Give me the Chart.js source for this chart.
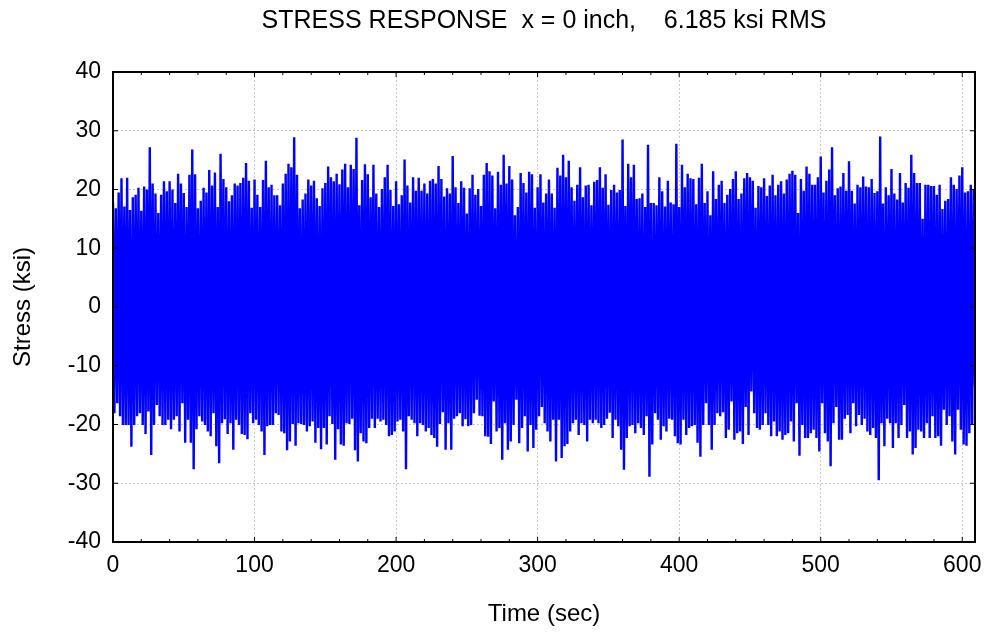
<!DOCTYPE html>
<html>
<head>
<meta charset="utf-8">
<script src="https://cdn.jsdelivr.net/npm/chart.js@4.4.1/dist/chart.umd.min.js"></script>
<style>
  html, body { margin: 0; padding: 0; background: #fff; }
  #wrap { width: 985px; height: 635px; }
</style>
</head>
<body>
<div id="wrap"><canvas id="stress" width="985" height="635"></canvas></div>
<script>
// positive peaks, one every 2 sec starting at t = 0 (ksi)
const topPeaks = [
  17.8, 16.8, 19.5, 21.9, 17.1, 22.0, 16.5, 18.7, 19.1, 20.3,
  16.4, 20.5, 20.0, 27.2, 21.0, 19.3, 16.0, 19.1, 21.4, 19.7,
  21.4, 20.0, 17.7, 22.7, 21.0, 19.4, 17.0, 22.5, 26.8, 22.6,
  16.8, 18.1, 20.3, 19.5, 23.3, 20.7, 22.9, 17.0, 26.1, 21.8,
  20.4, 18.0, 19.0, 21.0, 20.7, 21.1, 22.0, 24.5, 21.5, 16.9,
  21.7, 19.1, 17.0, 21.6, 24.9, 20.4, 20.8, 19.0, 19.0, 17.3,
  21.0, 22.7, 24.4, 23.8, 28.9, 22.5, 16.8, 18.3, 19.3, 21.7,
  20.7, 21.5, 18.5, 17.2, 20.2, 21.1, 23.9, 22.1, 21.4, 22.7,
  20.9, 23.4, 24.4, 20.4, 24.2, 23.5, 28.8, 17.3, 21.6, 24.3,
  22.6, 18.7, 24.2, 19.3, 17.0, 20.1, 22.1, 24.2, 19.9, 17.2,
  21.4, 17.5, 19.0, 25.1, 20.7, 17.8, 22.1, 19.8, 22.0, 19.8,
  21.0, 19.3, 21.5, 21.8, 21.0, 24.0, 21.8, 18.8, 20.2, 19.3,
  25.7, 20.4, 17.7, 21.4, 20.3, 15.9, 20.2, 22.5, 19.1, 20.1,
  17.2, 22.5, 24.5, 23.1, 22.4, 16.8, 23.0, 20.8, 25.9, 21.0,
  24.0, 21.7, 15.6, 17.0, 22.8, 21.1, 19.5, 23.0, 22.6, 16.9,
  20.4, 22.6, 17.8, 19.3, 21.7, 19.3, 16.9, 23.7, 22.4, 25.9,
  22.1, 24.9, 20.4, 18.1, 20.8, 23.8, 18.7, 20.7, 20.8, 17.3,
  21.3, 21.6, 23.8, 20.3, 22.6, 17.4, 19.9, 20.8, 19.5, 19.9,
  28.5, 17.2, 24.4, 22.1, 24.2, 18.4, 18.5, 19.3, 17.0, 27.6,
  17.7, 17.7, 17.3, 22.1, 19.7, 17.1, 21.5, 17.8, 17.5, 27.8,
  17.0, 24.2, 20.4, 22.7, 21.9, 21.8, 17.5, 22.0, 24.4, 17.7,
  19.7, 15.6, 23.1, 18.4, 20.8, 21.5, 17.7, 19.1, 20.1, 21.8,
  23.1, 18.4, 19.3, 21.9, 22.8, 22.1, 21.5, 16.9, 20.6, 20.4,
  21.9, 18.9, 20.7, 22.5, 19.0, 20.8, 21.4, 19.3, 21.7, 22.7,
  23.2, 22.5, 16.0, 21.8, 19.8, 23.9, 22.7, 20.8, 20.8, 22.1,
  25.6, 19.5, 21.5, 23.4, 27.2, 19.0, 20.2, 20.5, 22.8, 19.8,
  24.8, 19.8, 17.6, 20.8, 20.4, 22.2, 20.5, 20.4, 21.8, 19.4,
  19.7, 29.0, 17.6, 20.4, 19.0, 23.5, 19.3, 18.3, 22.8, 17.8,
  21.1, 20.3, 25.9, 22.8, 21.1, 21.1, 15.0, 20.8, 20.8, 20.6,
  20.6, 19.1, 20.8, 16.7, 18.1, 18.4, 22.1, 20.8, 20.1, 22.4,
  23.8, 19.5, 19.7, 20.8, 20.1
];

// negative peaks, one every 2 sec starting at t = 1 (ksi)
const bottomPeaks = [
  -18.1, -16.4, -18.6, -20.1, -20.1, -20.1, -23.8, -20.1, -18.6, -18.1,
  -20.1, -21.6, -17.8, -25.2, -20.1, -16.7, -18.6, -20.1, -20.1, -19.2,
  -20.8, -19.2, -18.6, -21.2, -16.4, -23.1, -19.2, -23.1, -27.6, -20.8,
  -18.6, -19.5, -20.1, -21.2, -22.0, -18.1, -23.7, -26.6, -19.8, -19.1,
  -21.6, -19.8, -24.3, -19.2, -20.1, -21.6, -21.8, -22.5, -18.1, -19.8,
  -19.2, -20.1, -21.2, -25.2, -20.3, -20.1, -20.1, -18.1, -18.4, -21.2,
  -21.5, -24.4, -22.9, -19.9, -23.6, -19.8, -19.9, -20.1, -21.2, -20.3,
  -19.5, -23.1, -20.6, -24.2, -20.6, -23.4, -18.6, -19.9, -26.0, -20.8,
  -23.4, -23.6, -19.8, -19.9, -19.0, -24.4, -26.3, -21.5, -22.9, -23.2,
  -20.6, -19.0, -20.6, -19.0, -19.5, -19.2, -20.1, -22.0, -21.8, -21.2,
  -19.5, -19.2, -21.2, -27.6, -18.6, -19.2, -19.8, -22.0, -19.8, -20.1,
  -21.2, -20.6, -21.8, -22.3, -23.8, -19.9, -17.9, -24.3, -19.8, -24.3,
  -19.0, -18.6, -18.1, -20.3, -19.1, -20.3, -20.1, -18.1, -15.8, -18.5,
  -18.6, -22.0, -22.1, -23.3, -16.1, -21.2, -20.6, -26.0, -19.8, -24.3,
  -22.9, -20.1, -15.8, -23.2, -20.6, -18.6, -24.6, -20.1, -24.0, -20.9,
  -18.6, -17.0, -19.8, -21.2, -22.9, -19.2, -26.3, -19.2, -25.7, -23.7,
  -23.3, -21.2, -19.8, -19.2, -21.8, -19.8, -20.1, -22.9, -19.2, -19.8,
  -19.2, -19.8, -20.6, -20.1, -19.0, -18.0, -22.3, -19.2, -20.3, -24.3,
  -27.7, -22.3, -20.3, -20.1, -21.5, -19.8, -20.6, -21.8, -18.6, -28.9,
  -23.4, -18.1, -19.2, -22.6, -20.3, -21.2, -19.0, -19.2, -22.0, -23.2,
  -23.4, -19.2, -21.8, -20.6, -20.3, -20.1, -23.1, -25.5, -20.1, -16.4,
  -20.1, -24.3, -20.1, -18.1, -18.6, -17.9, -22.3, -20.9, -16.1, -22.6,
  -21.5, -21.2, -23.3, -17.0, -21.8, -14.4, -18.1, -20.6, -20.9, -20.1,
  -18.1, -20.1, -22.0, -19.5, -22.0, -21.2, -22.6, -21.8, -21.5, -19.5,
  -22.9, -16.4, -25.3, -20.1, -22.3, -22.3, -21.5, -20.9, -22.3, -24.6,
  -16.4, -21.5, -22.9, -27.1, -19.8, -17.0, -22.6, -22.6, -19.0, -18.4,
  -21.5, -16.4, -20.3, -18.4, -20.1, -19.0, -21.2, -21.8, -20.6, -22.3,
  -29.5, -19.8, -23.7, -19.0, -19.8, -24.0, -19.8, -22.3, -20.1, -16.7,
  -22.3, -21.2, -25.1, -24.0, -20.9, -21.2, -22.3, -19.8, -22.3, -18.6,
  -22.3, -22.0, -23.6, -17.5, -20.1, -18.6, -22.9, -25.1, -17.5, -20.9,
  -23.4, -23.6, -21.5, -20.1, -13.5
];

const xTicks = [0, 100, 200, 300, 400, 500, 600];
const yTicks = [-40, -30, -20, -10, 0, 10, 20, 30, 40];
const titleText = 'STRESS RESPONSE  x = 0 inch,    6.185 ksi RMS';

const FONT = '"Liberation Sans", Arial, sans-serif';

// interleave the peaks into one time history
const points = [];
topPeaks.forEach((v, i) => {
  points.push({ x: 2 * i, y: v });
  if (i < bottomPeaks.length) points.push({ x: 2 * i + 1, y: bottomPeaks[i] });
});

// box, inside tick marks and the title
const frame = {
  id: 'frame',
  afterDraw(chart) {
    const { ctx, chartArea: a, scales } = chart;
    ctx.save();
    ctx.strokeStyle = '#000';
    ctx.lineWidth = 1;
    ctx.beginPath();
    for (let v = 0; v <= 609; v += 20) {
      const x = scales.x.getPixelForValue(v);
      const len = v % 100 === 0 ? 5 : 3;
      ctx.moveTo(x, a.bottom);
      ctx.lineTo(x, a.bottom - len);
      ctx.moveTo(x, a.top);
      ctx.lineTo(x, a.top + len);
    }
    yTicks.forEach(v => {
      const y = scales.y.getPixelForValue(v);
      ctx.moveTo(a.left, y);
      ctx.lineTo(a.left + 5, y);
      ctx.moveTo(a.right, y);
      ctx.lineTo(a.right - 5, y);
    });
    ctx.stroke();
    ctx.lineWidth = 2;
    ctx.strokeRect(a.left, a.top, a.right - a.left, a.bottom - a.top);

    ctx.fillStyle = '#000';
    ctx.font = '25px ' + FONT;
    ctx.textAlign = 'center';
    ctx.textBaseline = 'middle';
    ctx.fillText(titleText, (a.left + a.right) / 2, 21);
    ctx.restore();
  },
};

new Chart(document.getElementById('stress'), {
  type: 'line',
  data: {
    datasets: [
      {
        data: points,
        borderColor: '#0000ff',
        borderWidth: 2.4,
        pointRadius: 0,
        tension: 0,
        fill: false,
      },
    ],
  },
  options: {
    responsive: false,
    animation: false,
    events: [],
    layout: { padding: { top: 72, right: 10, left: 0, bottom: 0 } },
    plugins: { legend: { display: false }, tooltip: { enabled: false } },
    scales: {
      x: {
        type: 'linear',
        min: 0,
        max: 609,
        afterBuildTicks: s => { s.ticks = xTicks.map(v => ({ value: v })); },
        afterFit: s => { s.height = 93; s.paddingLeft = 0; s.paddingRight = 0; },
        ticks: { color: '#000', font: { family: FONT, size: 23 }, padding: 10, maxRotation: 0 },
        grid: { color: '#c8c8c8', lineWidth: 1, drawTicks: false },
        border: { display: false, dash: [2, 2] },
        title: {
          display: true,
          text: 'Time (sec)',
          color: '#000',
          font: { family: FONT, size: 24 },
          padding: { top: 0, bottom: 6 },
        },
      },
      y: {
        min: -40,
        max: 40,
        afterBuildTicks: s => { s.ticks = yTicks.map(v => ({ value: v })); },
        afterFit: s => { s.width = 113; s.paddingTop = 0; s.paddingBottom = 0; },
        ticks: { color: '#000', font: { family: FONT, size: 23 }, padding: 12 },
        grid: { color: '#c8c8c8', lineWidth: 1, drawTicks: false },
        border: { display: false, dash: [2, 2] },
        title: {
          display: true,
          text: 'Stress (ksi)',
          color: '#000',
          font: { family: FONT, size: 24 },
          padding: { top: 9, bottom: 0 },
        },
      },
    },
  },
  plugins: [frame],
});
</script>
</body>
</html>
